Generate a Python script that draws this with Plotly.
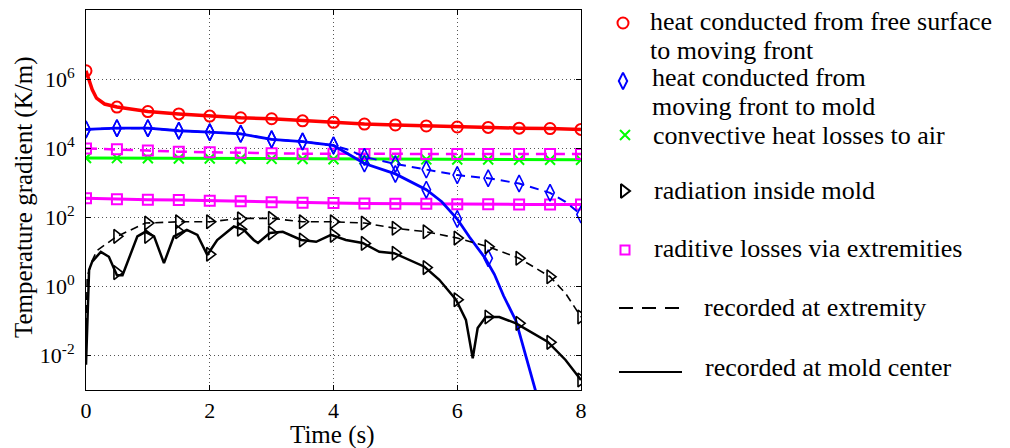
import plotly.graph_objects as go

W, H = 1010, 448

# ---------------- data ----------------
t_mark = [0, 0.5, 1, 1.5, 2, 2.5, 3, 3.5, 4, 4.5, 5, 5.5, 6, 6.5, 7, 7.5, 8]

# heat conducted from free surface to moving front (red)
t_red = [0, 0.05, 0.1, 0.17, 0.3, 0.5, 1, 1.5, 2, 2.5, 3, 3.5, 4, 4.5, 5, 5.5, 6, 6.5, 7, 7.5, 8]
v_red = [1.74e6, 8.9e5, 5.0e5, 2.8e5, 1.9e5, 1.55e5, 1.15e5, 9.8e4, 8.5e4, 7.6e4, 7.1e4,
         6.2e4, 5.6e4, 5.0e4, 4.7e4, 4.4e4, 4.1e4, 4.0e4, 3.8e4, 3.7e4, 3.5e4]
m_red = [1.74e6, 1.55e5, 1.15e5, 9.8e4, 8.5e4, 7.6e4, 7.1e4, 6.2e4, 5.6e4, 5.0e4, 4.7e4,
         4.4e4, 4.1e4, 4.0e4, 3.8e4, 3.7e4, 3.5e4]

# heat conducted from moving front to mold (blue), mold center (solid)
t_blue_c = [0, 0.5, 1, 1.5, 2, 2.5, 3, 3.5, 4, 4.5, 5, 5.5, 5.75, 6, 6.2, 6.45, 6.6, 6.75, 6.95, 7.1, 7.27, 7.32]
v_blue_c = [3.5e4, 3.8e4, 3.8e4, 3.2e4, 2.9e4, 2.6e4, 1.8e4, 1.55e4, 1.2e4, 3.6e3, 1.8e3, 631,
            282, 89, 26.3, 6.6, 2.24, 0.525, 0.1, 0.01, 8.9e-4, 5.0e-4]
tm_blue_c = [0, 0.5, 1, 1.5, 2, 2.5, 3, 3.5, 4, 4.5, 5, 5.5, 6, 6.5]
m_blue_c = [3.5e4, 3.8e4, 3.8e4, 3.2e4, 2.9e4, 2.6e4, 1.8e4, 1.55e4, 1.2e4, 3.6e3, 1.8e3, 631, 89, 6.5]

# blue, extremity (dashed)
t_blue_e = [0, 0.5, 1, 1.5, 2, 2.5, 3, 3.5, 4, 4.25, 4.5, 5, 5.5, 6, 6.5, 7, 7.5, 7.75, 8]
v_blue_e = [3.5e4, 3.8e4, 3.8e4, 3.2e4, 2.9e4, 2.6e4, 1.8e4, 1.55e4, 1.2e4, 8.9e3, 5.6e3, 3.5e3,
            2.4e3, 1.66e3, 1.35e3, 950, 510, 280, 120]
m_blue_e = [3.5e4, 3.8e4, 3.8e4, 3.2e4, 2.9e4, 2.6e4, 1.8e4, 1.55e4, 1.2e4, 5.6e3, 3.5e3,
            2.4e3, 1.66e3, 1.35e3, 950, 510, 120]

# convective heat losses to air (green)
v_green = [5.2e3, 5.15e3, 5.1e3, 5.05e3, 5.0e3, 4.95e3, 4.9e3, 4.85e3, 4.8e3, 4.8e3, 4.75e3,
           4.75e3, 4.7e3, 4.7e3, 4.65e3, 4.6e3, 4.6e3]

# radiative losses via extremities (magenta): extremity (dashed), center (solid)
v_mag_e = [9.8e3, 9.3e3, 8.5e3, 7.9e3, 7.6e3, 7.4e3, 7.1e3, 6.9e3, 6.9e3, 6.8e3, 6.8e3,
           6.8e3, 6.8e3, 6.8e3, 6.8e3, 6.8e3, 6.8e3]
v_mag_c = [355, 330, 320, 315, 300, 290, 270, 263, 257, 250, 245, 245, 240, 238, 236, 235, 234]

# radiation inside mold (black), extremity (dashed)
t_blk_e = [0, 0.02, 0.1, 0.18, 0.5, 0.96, 1.5, 2, 2.5, 3, 3.5, 4, 4.5, 5, 5.5, 6, 6.5, 7, 7.5, 7.75, 8]
v_blk_e = [0.03, 1.9, 5.6, 11, 28, 68, 74, 74, 93, 93, 74, 74, 68, 48, 38, 25, 14, 6.5, 1.9, 0.63, 0.13]
tm_blk = [0.5, 1, 1.5, 2, 2.5, 3, 3.5, 4, 4.5, 5, 5.5, 6, 6.5, 7, 7.5, 8]
m_blk_e = [28, 68, 74, 74, 90, 93, 74, 74, 68, 48, 38, 25, 14, 6.5, 1.9, 0.13]

# black, mold center (solid)
t_blk_c = [0, 0.05, 0.1, 0.24, 0.37, 0.5, 0.59, 0.83, 0.96, 1.1, 1.26, 1.42, 1.63, 1.8, 1.96,
           2.12, 2.39, 2.55, 2.71, 2.78, 2.97, 3.18, 3.48, 3.72, 3.96, 4.2, 4.47, 4.74, 4.98,
           5.33, 5.47, 5.71, 5.98, 6.14, 6.25, 6.33, 6.46, 6.68, 6.95, 7.46, 7.75, 8]
v_blk_c = [5.4e-3, 3.0, 5.2, 10, 7.2, 2.1, 2.1, 28, 38, 28, 4.7, 28, 43, 31, 8.1,
           22, 54, 43, 22, 18, 35, 38, 22, 19.5, 31, 22, 18, 10, 9.1,
           4.7, 3.7, 1.55, 0.41, 0.107, 8.3e-3, 0.062, 0.13, 0.13, 0.085, 0.025, 7.4e-3, 1.95e-3]
m_blk_c = [2.5, 28, 38, 8.5, 45, 35, 22, 30, 17.5, 9.1, 3.5, 0.41, 0.13, 0.085, 0.024, 1.95e-3]

y_tickvals = [1e-2, 1, 1e2, 1e4, 1e6]
y_ticktext = ["10<sup>-2</sup>", "10<sup>0</sup>", "10<sup>2</sup>", "10<sup>4</sup>", "10<sup>6</sup>"]
x_tickvals = [0, 2, 4, 6, 8]
x_ticktext = ["0", "2", "4", "6", "8"]

legend_items = [
    ("circle-open", "#ff0000", 11, 623, 23, ["heat conducted from free surface", "to moving front"], 649, [21, 50]),
    ("diamond-tall-open", "#0000ff", 12, 623, 81, ["heat conducted from", "moving front to mold"], 651, [77, 106]),
    ("x-thin-open", "#00ff00", 10, 625, 135, ["convective heat losses to air"], 652, [135]),
    ("triangle-right-open", "#000000", 12, 624, 191, ["radiation inside mold"], 653, [190]),
    ("square-open", "#ff00ff", 9, 625, 250, ["raditive losses via extremities"], 653, [248]),
]
legend_lines = [("14px,9px", 308, "recorded at extremity", 703, 307),
                ("solid", 372, "recorded at mold center", 704, 367)]

# ---------------- figure ----------------
SERIF = "Liberation Serif, Times New Roman, serif"
LEG_SIZE = 26
fig = go.Figure()


def add(x, y, color, dash="solid", width=2.0, mx=None, my=None, symbol=None, size=10, mlw=1.6):
    fig.add_trace(go.Scatter(x=x, y=y, mode="lines", line=dict(color=color, width=width, dash=dash),
                             showlegend=False, hoverinfo="skip"))
    if mx is not None:
        fig.add_trace(go.Scatter(x=mx, y=my, mode="markers",
                                 marker=dict(symbol=symbol, size=size, color=color,
                                             line=dict(color=color, width=mlw)),
                                 showlegend=False, hoverinfo="skip"))


add(t_mark, v_green, "#00ff00", width=3, mx=t_mark, my=v_green, symbol="x-thin-open", size=10, mlw=2)
add(t_mark, v_mag_c, "#ff00ff", width=3, mx=t_mark, my=v_mag_c, symbol="square-open", size=10, mlw=2)
add(t_mark, v_mag_e, "#ff00ff", dash="11px,7px", width=2.5, mx=t_mark, my=v_mag_e, symbol="square-open", size=10, mlw=2)
add(t_red, v_red, "#ff0000", width=3.5, mx=t_mark, my=m_red, symbol="circle-open", size=11, mlw=2)
add(t_blue_e, v_blue_e, "#0000ff", dash="9px,6px", width=2, mx=t_mark, my=m_blue_e, symbol="diamond-tall-open", size=12, mlw=1.6)
add(t_blue_c, v_blue_c, "#0000ff", width=2.8, mx=tm_blue_c, my=m_blue_c, symbol="diamond-tall-open", size=12, mlw=1.6)
add(t_blk_e, v_blk_e, "#000000", dash="8px,5px", width=1.6, mx=tm_blk, my=m_blk_e, symbol="triangle-right-open", size=12, mlw=1.6)
add(t_blk_c, v_blk_c, "#000000", width=2.5, mx=tm_blk, my=m_blk_c, symbol="triangle-right-open", size=12, mlw=1.6)

# legend drawn in pixel coordinates on an auxiliary axis pair
for sym, col, sz, mx, my, lines, tx, tys in legend_items:
    fig.add_trace(go.Scatter(x=[mx], y=[my], mode="markers", xaxis="x2", yaxis="y2",
                             marker=dict(symbol=sym, size=sz, color=col, line=dict(color=col, width=2)),
                             showlegend=False, hoverinfo="skip"))
    for txt, ty in zip(lines, tys):
        fig.add_annotation(x=tx, y=ty, xref="x2", yref="y2", text=txt, showarrow=False,
                           xanchor="left", yanchor="middle", borderpad=0,
                           font=dict(family=SERIF, size=LEG_SIZE, color="black"))
for dsh, ly, txt, tx, ty in legend_lines:
    fig.add_trace(go.Scatter(x=[619, 682], y=[ly, ly], mode="lines", xaxis="x2", yaxis="y2",
                             line=dict(color="black", width=2.2, dash=dsh), showlegend=False, hoverinfo="skip"))
    fig.add_annotation(x=tx, y=ty, xref="x2", yref="y2", text=txt, showarrow=False,
                       xanchor="left", yanchor="middle", borderpad=0,
                       font=dict(family=SERIF, size=LEG_SIZE, color="black"))

# axis titles
fig.add_annotation(x=24 / W, y=1 - 198 / H, xref="paper", yref="paper", text="Temperature gradient (K/m)",
                   textangle=-90, showarrow=False, xanchor="center", yanchor="middle", borderpad=0,
                   font=dict(family=SERIF, size=25, color="black"))
fig.add_annotation(x=332 / W, y=1 - 435 / H, xref="paper", yref="paper", text="Time (s)",
                   showarrow=False, xanchor="center", yanchor="middle", borderpad=0,
                   font=dict(family=SERIF, size=25, color="black"))

axis_common = dict(showline=True, linecolor="black", linewidth=1, mirror="ticks", ticks="inside",
                   ticklen=5, tickcolor="black", showgrid=True, gridcolor="#555555", griddash="1px,3px",
                   gridwidth=1, zeroline=False, tickfont=dict(family=SERIF, size=22, color="black"))

fig.update_layout(
    width=W, height=H, margin=dict(l=0, r=0, t=0, b=0),
    paper_bgcolor="white", plot_bgcolor="white", template="none",
    xaxis=dict(domain=[86 / W, 581 / W], range=[0, 8], tickvals=x_tickvals, ticktext=x_ticktext,
               ticklabelstandoff=1, **axis_common),
    yaxis=dict(domain=[1 - 390 / H, 1 - 10 / H], type="log", range=[-3, 8], tickvals=y_tickvals,
               ticktext=y_ticktext, ticklabelstandoff=6, **axis_common),
    xaxis2=dict(domain=[600 / W, 1], range=[600, 1010], visible=False, anchor="y2"),
    yaxis2=dict(domain=[0, 1], range=[448, 0], visible=False, anchor="x2"),
)

fig.write_html("out.html")
